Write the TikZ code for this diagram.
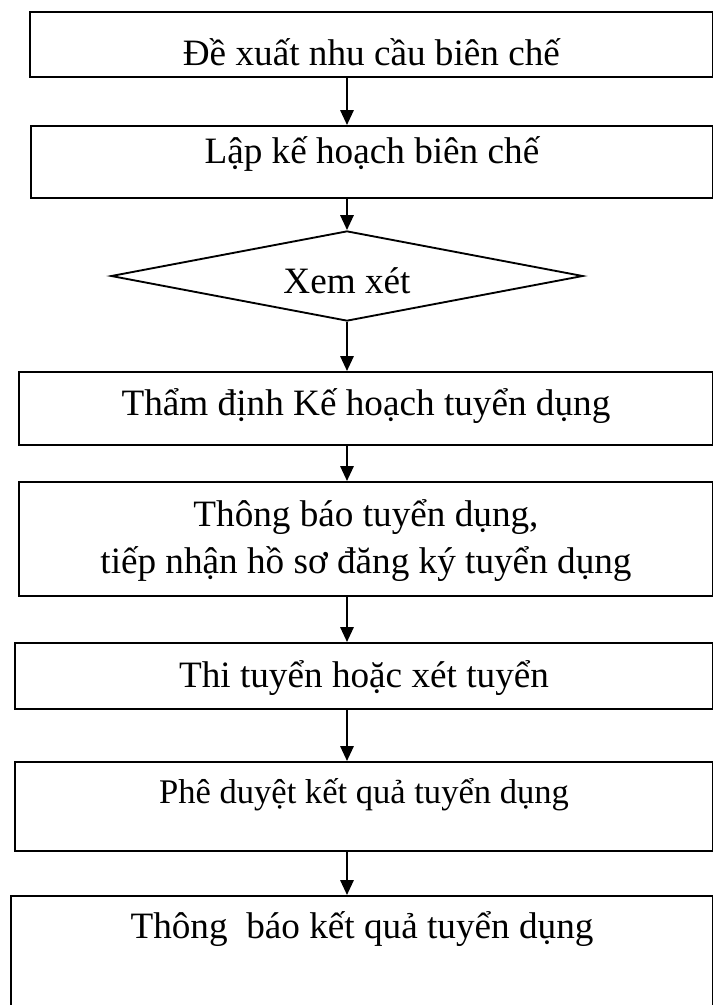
\documentclass[tikz,border=0pt]{standalone}
\usepackage{fontspec}
\setmainfont{Liberation Serif}
\usetikzlibrary{arrows.meta, shapes.geometric}
\tikzset{>={Triangle[length=5.6pt,width=5pt]}}
\tikzset{
  buoc/.style={draw, line width=0.7pt, inner sep=0pt, anchor=north west, align=center},
  quyet/.style={draw, diamond, line width=0.7pt, inner sep=0pt, aspect=5.2,
    minimum width=177.6pt, minimum height=33.9pt}
}

\begin{document}
\begin{tikzpicture}[x=0.3763pt, y=-0.3763pt, font=\fontsize{14pt}{17.7pt}\selectfont]
\useasboundingbox (0,0) rectangle (713,1005);
\node[buoc, minimum width=257pt, text height=20.32pt, text depth=4.14pt] (dexuat) at (29,11) {Đề xuất nhu cầu biên chế};
\node[buoc, minimum width=256.6pt, text height=14.3pt, text depth=12.79pt] (lapkh) at (30,125) {Lập kế hoạch biên chế};
\node[quyet, text height=12.8pt, text depth=0pt] (xem) at (347,276) {Xem xét};
\node[buoc, minimum width=261.2pt, text height=16.56pt, text depth=10.91pt] (thamdinh) at (18,371) {Thẩm định Kế hoạch tuyển dụng};
\node[buoc, minimum width=261.2pt, text height=34.62pt, text depth=8.28pt] (thongbao) at (18,481) {Thông báo tuyển dụng,\\ tiếp nhận hồ sơ đăng ký tuyển dụng};
\node[buoc, minimum width=262.7pt, text height=16.93pt, text depth=7.9pt] (thituyen) at (14,642) {Thi tuyển hoặc xét tuyển};
\node[buoc, minimum width=262.7pt, text height=15.8pt, text depth=17.69pt, font=\fontsize{13pt}{16pt}\selectfont] (pheduyet) at (14,761) {Phê duyệt kết quả tuyển dụng};
\node[buoc, minimum width=264.2pt, text height=16.18pt, text depth=28.97pt] (ketqua) at (10,895) {Thông\ \ báo kết quả tuyển dụng};
% mui ten giua cac buoc
\foreach \tu/\den in {dexuat/lapkh,lapkh/xem,xem/thamdinh,thamdinh/thongbao,thongbao/thituyen,thituyen/pheduyet,pheduyet/ketqua}
\draw[->, line width=0.75pt] (\tu.south -| xem.center) -- (\den.north -| xem.center);
\end{tikzpicture}
\end{document}
